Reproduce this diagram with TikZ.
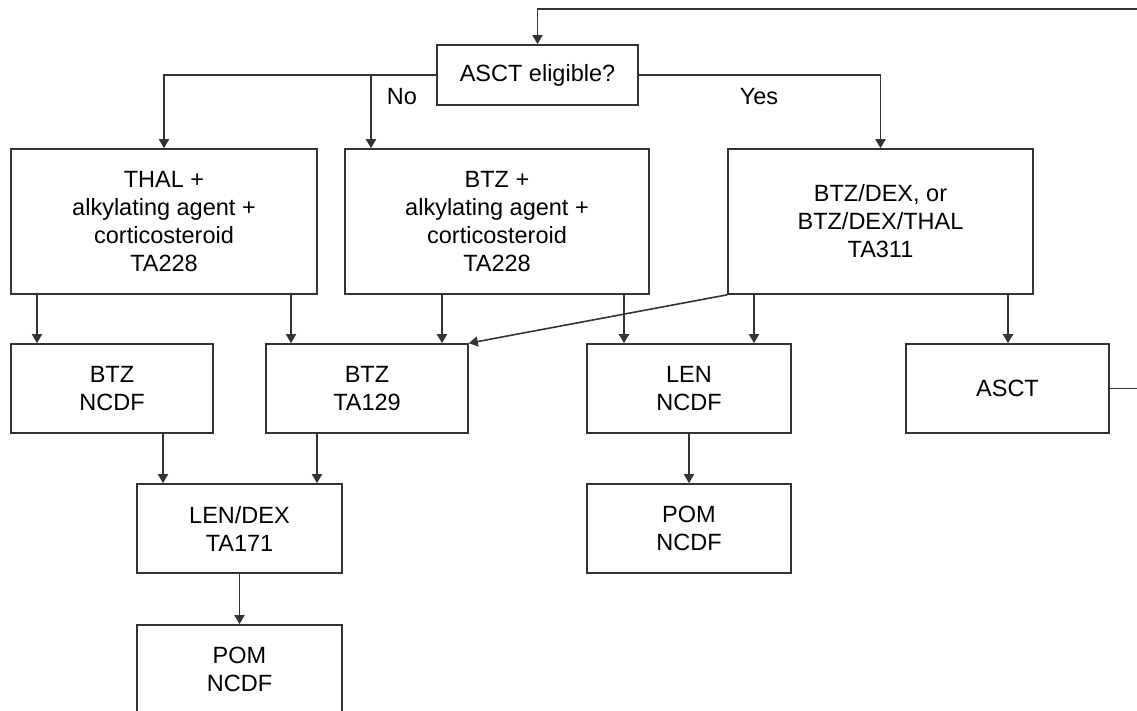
\documentclass[tikz,border=0pt]{standalone}
\usepackage{fontspec}
\setmainfont{Liberation Sans}
\usetikzlibrary{arrows.meta,calc}
\definecolor{ln}{HTML}{333333}
\tikzset{
  box/.style={draw=ln, line width=1.6pt, inner sep=0pt, align=center, text=black,
    font=\fontsize{23.5}{28}\selectfont},
  arr/.style={draw=ln, line width=1.6pt, -{Triangle[width=10pt,length=9pt]}},
  lbl/.style={inner sep=0pt, text=black, font=\fontsize{23.5}{28}\selectfont}
}
\begin{document}
\begin{tikzpicture}[x=1pt,y=-1pt]
\useasboundingbox (0,0) rectangle (1137,710);
\clip (0,0) rectangle (1137,710);
\fill[white] (0,0) rectangle (1137,710);
% boxes
\node[box, minimum width=201pt, minimum height=60pt] (elig) at (537.5,75) {ASCT eligible?};
\node[box, minimum width=306pt, minimum height=145pt] (thal) at (164,221.5) {THAL +\\alkylating agent +\\corticosteroid\\TA228};
\node[box, minimum width=304pt, minimum height=145pt] (btzp) at (497,221.5) {BTZ +\\alkylating agent +\\corticosteroid\\TA228};
\node[box, minimum width=305pt, minimum height=145pt] (btzdex) at (880.5,221.5) {BTZ/DEX, or\\BTZ/DEX/THAL\\TA311};
\node[box, minimum width=202pt, minimum height=89pt] (btzn) at (112,388.5) {BTZ\\NCDF};
\node[box, minimum width=202pt, minimum height=89pt] (ta129) at (367,388.5) {BTZ\\TA129};
\node[box, minimum width=204pt, minimum height=89pt] (lenn) at (689,388.5) {LEN\\NCDF};
\node[box, minimum width=203pt, minimum height=89pt] (asct) at (1007.5,388.5) {ASCT};
\node[box, minimum width=205pt, minimum height=89pt] (lendex) at (239.5,528.5) {LEN/DEX\\TA171};
\node[box, minimum width=204pt, minimum height=89pt] (pomr) at (689,528.5) {POM\\NCDF};
\node[box, minimum width=205pt, minimum height=89pt] (poml) at (239.5,669.5) {POM\\NCDF};
% labels
\node[lbl] (no) at (402,97) {No};
\node[lbl] (yes) at (759,97) {Yes};
% helper coordinates (x positions of connectors)
\coordinate (ret) at (1150,9);
\coordinate (x37) at (37,0);
\coordinate (x291) at (291,0);
\coordinate (x371) at (371,0);
\coordinate (x442) at (442,0);
\coordinate (x624) at (624,0);
\coordinate (x754) at (754,0);
\coordinate (x1008) at (1008,0);
\coordinate (x163) at (163,0);
\coordinate (x317) at (317,0);
% connectors
\draw[arr] (asct.east) -| (ret) -| (elig.north);
\draw[arr] (elig.west) -| (thal.north);
\draw[arr] (elig.west -| x371) -- (btzp.north -| x371);
\draw[arr] (elig.east) -| (btzdex.north);
\draw[arr] (thal.south -| x37) -- (btzn.north -| x37);
\draw[arr] (thal.south -| x291) -- (ta129.north -| x291);
\draw[arr] (btzp.south -| x442) -- (ta129.north -| x442);
\draw[arr] (btzp.south -| x624) -- (lenn.north -| x624);
\draw[arr] (btzdex.south west) -- (ta129.north east);
\draw[arr] (btzdex.south -| x754) -- (lenn.north -| x754);
\draw[arr] (btzdex.south -| x1008) -- (asct.north -| x1008);
\draw[arr] (btzn.south -| x163) -- (lendex.north -| x163);
\draw[arr] (ta129.south -| x317) -- (lendex.north -| x317);
\draw[arr] (lendex.south) -- (poml.north);
\draw[arr] (lenn.south) -- (pomr.north);
\end{tikzpicture}
\end{document}
